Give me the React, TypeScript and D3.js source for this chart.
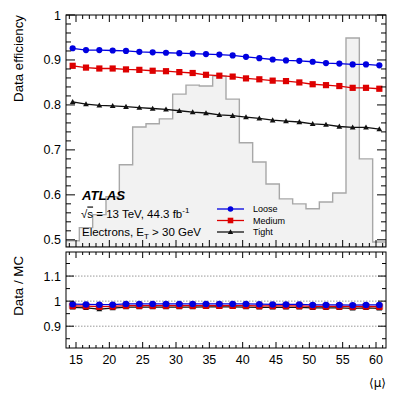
import React from "react";
import * as d3 from "d3";

const binEdgesStart = 13.5;
const binWidth = 2;
const muCenters = [14.5,16.5,18.5,20.5,22.5,24.5,26.5,28.5,30.5,32.5,34.5,36.5,38.5,40.5,42.5,44.5,46.5,48.5,50.5,52.5,54.5,56.5,58.5,60.5];
const effLoose = [0.926,0.922,0.922,0.921,0.920,0.918,0.917,0.916,0.915,0.914,0.913,0.912,0.910,0.907,0.904,0.901,0.899,0.898,0.896,0.893,0.892,0.890,0.890,0.888];
const effMedium = [0.887,0.883,0.881,0.881,0.879,0.878,0.876,0.875,0.873,0.871,0.867,0.865,0.863,0.859,0.857,0.854,0.853,0.850,0.846,0.844,0.842,0.838,0.838,0.836];
const effTight = [0.807,0.802,0.799,0.798,0.796,0.794,0.792,0.790,0.787,0.784,0.782,0.778,0.776,0.773,0.770,0.766,0.764,0.762,0.758,0.756,0.752,0.750,0.750,0.746];
const muHist = [0.498,0.527,0.556,0.596,0.667,0.751,0.758,0.769,0.824,0.844,0.842,0.864,0.813,0.716,0.673,0.624,0.591,0.580,0.569,0.584,0.604,0.949,0.680,0.495];
const ratioLoose = [0.988,0.987,0.986,0.986,0.989,0.989,0.989,0.989,0.989,0.989,0.989,0.989,0.989,0.989,0.988,0.987,0.987,0.987,0.985,0.985,0.985,0.984,0.985,0.985];
const ratioMedium = [0.981,0.980,0.978,0.979,0.982,0.982,0.982,0.982,0.982,0.982,0.982,0.982,0.982,0.982,0.981,0.981,0.981,0.981,0.979,0.979,0.979,0.978,0.979,0.978];
const ratioTight = [0.975,0.973,0.968,0.972,0.976,0.976,0.976,0.976,0.976,0.976,0.977,0.977,0.977,0.976,0.975,0.975,0.975,0.975,0.973,0.973,0.973,0.971,0.973,0.971];
const xTickLabels = [15,20,25,30,35,40,45,50,55,60];
const yTopTicks = [0.5,0.6,0.7,0.8,0.9,1];
const yBotTicks = [0.9,1,1.1];
const seriesNames = ["Loose","Medium","Tight"];
const seriesColors = ["#0000e0","#dd0000","#111111"];
const seriesShapes = ["circle","square","triangle"];

const FONT = "'Liberation Sans', Arial, Helvetica, sans-serif";

const L = 66, R = 386;
const topY0 = 15, topY1 = 247;
const botY0 = 252, botY1 = 348;

function Marker({ shape, x, y, color, s = 1 }: any) {
  if (shape === "circle") return <circle cx={x} cy={y} r={3.1 * s} fill={color} />;
  if (shape === "square") return <rect x={x - 3.1 * s} y={y - 3.1 * s} width={6.2 * s} height={6.2 * s} fill={color} />;
  const h = 3.4 * s;
  return <path d={`M${x},${y - h}L${x + h},${y + h * 0.75}L${x - h},${y + h * 0.75}Z`} fill={color} />;
}

export default function App() {
  const x = d3.scaleLinear().domain([13.5, 61.5]).range([L, R]);
  const yT = d3.scaleLinear().domain([0.484, 1]).range([topY1, topY0]);
  const yB = d3.scaleLinear().domain([0.813, 1.196]).range([botY1, botY0]);

  const effs = [effLoose, effMedium, effTight];
  const ratios = [ratioLoose, ratioMedium, ratioTight];

  let hp = `M${x(binEdgesStart)},${topY1}`;
  muHist.forEach((v, i) => {
    const e0 = binEdgesStart + i * binWidth;
    hp += `L${x(e0)},${yT(v)}L${x(e0 + binWidth)},${yT(v)}`;
  });
  hp += `L${x(binEdgesStart + muHist.length * binWidth)},${topY1}Z`;

  const lineTop = (arr: number[]) =>
    d3.line<number>().x((_, i) => x(muCenters[i])).y((v) => yT(v))(arr) || "";
  const lineBot = (arr: number[]) =>
    d3.line<number>().x((_, i) => x(muCenters[i])).y((v) => yB(v))(arr) || "";

  const xMinor = d3.range(14, 62, 1);
  const yTopMinor = d3.range(0.5, 1.0001, 0.02);
  const yBotMinor = d3.range(0.85, 1.16, 0.05);

  const xTicks = (yA: number, yB2: number, maj: number, min: number) =>
    xMinor.map((t) => {
      const major = t % 5 === 0;
      const len = major ? maj : min;
      const px = x(t);
      return (
        <g key={"xt" + yA + t}>
          <line x1={px} x2={px} y1={yA} y2={yA - len} stroke="#000" strokeWidth={1} />
          <line x1={px} x2={px} y1={yB2} y2={yB2 + len} stroke="#000" strokeWidth={1} />
        </g>
      );
    });

  return (
    <svg width={407} height={396} style={{ position: "absolute", left: 0, top: 0, background: "#fff" }} fontFamily={FONT}>
      <defs>
        <clipPath id="ctop"><rect x={L} y={topY0} width={R - L} height={topY1 - topY0} /></clipPath>
        <clipPath id="cbot"><rect x={L} y={botY0} width={R - L} height={botY1 - botY0} /></clipPath>
      </defs>
      <rect x={0} y={0} width={407} height={396} fill="#fff" />

      <path d={hp} fill="#f2f2f2" stroke="#a8a8a8" strokeWidth={1.4} clipPath="url(#ctop)" />
      <g clipPath="url(#ctop)">
        {effs.map((arr, k) => (
          <g key={"s" + k}>
            <path d={lineTop(arr)} fill="none" stroke={seriesColors[k]} strokeWidth={1.3} />
            {arr.map((v, i) => (
              <Marker key={i} shape={seriesShapes[k]} x={x(muCenters[i])} y={yT(v)} color={seriesColors[k]} s={k === 2 ? 0.85 : 1} />
            ))}
          </g>
        ))}
      </g>
      <rect x={L} y={topY0} width={R - L} height={topY1 - topY0} fill="none" stroke="#000" strokeWidth={1} />
      {xTicks(topY1, topY0, 7, 4)}
      {yTopMinor.map((t, i) => {
        const major = Math.abs(t * 10 - Math.round(t * 10)) < 1e-6;
        const len = major ? 9 : 5;
        const py = yT(t);
        return (
          <g key={"yt" + i}>
            <line x1={L} x2={L + len} y1={py} y2={py} stroke="#000" />
            <line x1={R} x2={R - len} y1={py} y2={py} stroke="#000" />
          </g>
        );
      })}
      {yTopTicks.map((t) => (
        <text key={"ytl" + t} x={61} y={yT(t) + 4.5} fontSize={12.5} textAnchor="end">{String(t)}</text>
      ))}
      <text transform={`translate(23,${topY0}) rotate(-90)`} fontSize={13.3} textAnchor="end">Data efficiency</text>

      <text x={82} y={199.5} fontSize={13.2} fontWeight="bold" fontStyle="italic">ATLAS</text>
      <text x={81} y={217.5} fontSize={11.5}>
        √<tspan style={{ textDecoration: "overline" }}>s</tspan> = 13 TeV, 44.3 fb<tspan fontSize={8} dy={-4.5}>-1</tspan>
      </text>
      <text x={82} y={236} fontSize={11.5}>
        Electrons, E<tspan fontSize={8} dy={3}>T</tspan><tspan dy={-3}> &gt; 30 GeV</tspan>
      </text>

      {seriesNames.map((n, k) => {
        const ly = 209 + k * 11.5;
        return (
          <g key={"lg" + k}>
            <line x1={217} x2={244} y1={ly} y2={ly} stroke={seriesColors[k]} strokeWidth={1.3} />
            <Marker shape={seriesShapes[k]} x={230.5} y={ly} color={seriesColors[k]} s={k === 2 ? 0.8 : 0.9} />
            <text x={253} y={ly + 3.2} fontSize={9}>{n}</text>
          </g>
        );
      })}

      {yBotTicks.map((t) => (
        <line key={"g" + t} x1={L} x2={R} y1={yB(t)} y2={yB(t)} stroke="#999" strokeWidth={1} strokeDasharray="1.5,1.5" />
      ))}
      <g clipPath="url(#cbot)">
        {ratios.map((arr, k) => (
          <g key={"r" + k}>
            {arr.map((v, i) => (
              <rect key={i} x={x(muCenters[i]) - 4} y={yB(v + 0.004)} width={8} height={yB(v - 0.004) - yB(v + 0.004)} fill="#b0b0b0" opacity={0.7} />
            ))}
          </g>
        ))}
        {[2, 1, 0].map((k) => (
          <g key={"rr" + k}>
            <path d={lineBot(ratios[k])} fill="none" stroke={seriesColors[k]} strokeWidth={1.3} />
            {ratios[k].map((v, i) => (
              <Marker key={i} shape={seriesShapes[k]} x={x(muCenters[i])} y={yB(v)} color={seriesColors[k]} s={k === 2 ? 0.85 : 1.05} />
            ))}
          </g>
        ))}
      </g>
      <rect x={L} y={botY0} width={R - L} height={botY1 - botY0} fill="none" stroke="#000" strokeWidth={1} />
      {xTicks(botY1, botY0, 6, 3)}
      {yBotMinor.map((t, i) => {
        const major = Math.abs(t * 10 - Math.round(t * 10)) < 1e-6;
        const len = major ? 8 : 4;
        const py = yB(t);
        return (
          <g key={"yb" + i}>
            <line x1={L} x2={L + len} y1={py} y2={py} stroke="#000" />
            <line x1={R} x2={R - len} y1={py} y2={py} stroke="#000" />
          </g>
        );
      })}
      {yBotTicks.map((t) => (
        <text key={"ybl" + t} x={61} y={yB(t) + 4.5} fontSize={12.5} textAnchor="end">{String(t)}</text>
      ))}
      <text transform={`translate(23,${botY0 + 4}) rotate(-90)`} fontSize={13.3} textAnchor="end">Data / MC</text>

      {xTickLabels.map((t) => (
        <text key={"xl" + t} x={x(t)} y={363.5} fontSize={12.5} textAnchor="middle">{t}</text>
      ))}
      <text x={386} y={387} fontSize={12} textAnchor="end" fontFamily="'DejaVu Sans', sans-serif">⟨μ⟩</text>
    </svg>
  );
}
